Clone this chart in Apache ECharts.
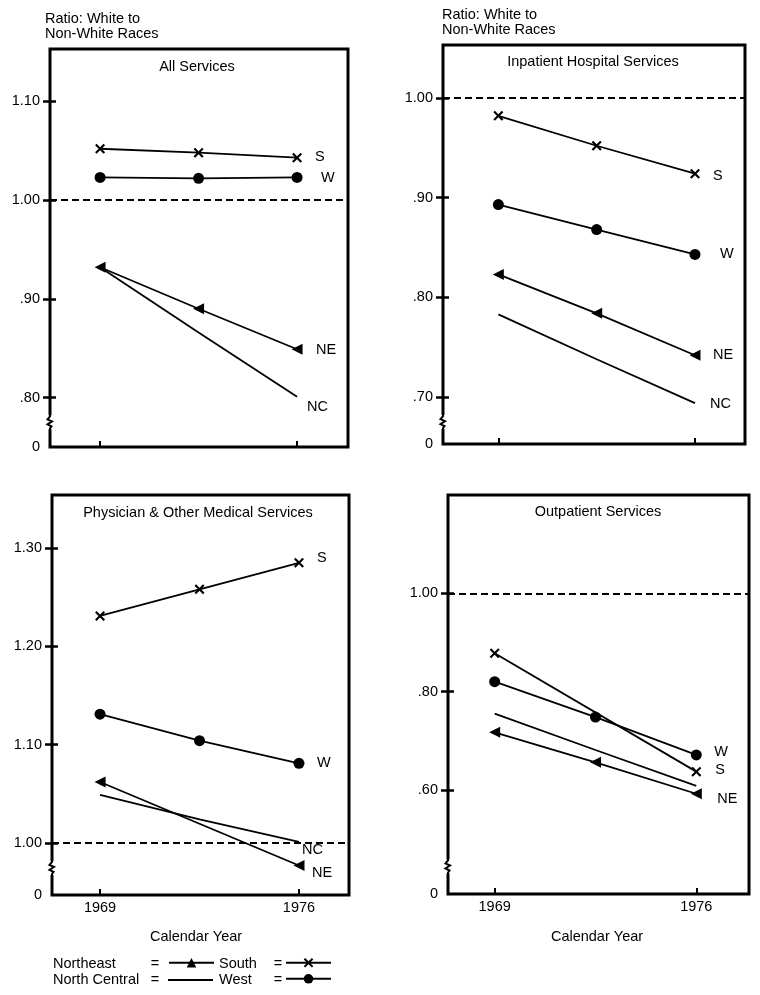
<!DOCTYPE html>
<html><head><meta charset="utf-8">
<script src="https://cdn.jsdelivr.net/npm/echarts@6/dist/echarts.min.js"></script>
<style>html,body{margin:0;padding:0;background:#fff}#c{width:760px;height:995px}</style>
</head><body><div id="c"></div>
<script>
// ---- data ----
const years = [1969, 1972.5, 1976];
const xTickYears = [1969, 1976];
const seriesNames = ['Northeast', 'North Central', 'South', 'West'];
const seriesCodes = ['NE', 'NC', 'S', 'W'];
const panelTitles = ['All Services', 'Inpatient Hospital Services', 'Physician & Other Medical Services', 'Outpatient Services'];
const yAxisTitle = 'Ratio: White to\nNon-White Races';
const xAxisTitle = 'Calendar Year';

const allNE = [0.932, 0.890, 0.849];
const allNC = [0.932, 0.866, 0.801];
const allS  = [1.052, 1.048, 1.043];
const allW  = [1.023, 1.022, 1.023];

const inpNE = [0.823, 0.784, 0.742];
const inpNC = [0.783, 0.738, 0.694];
const inpS  = [0.982, 0.952, 0.924];
const inpW  = [0.893, 0.868, 0.843];

const phyNE = [1.062, null, 0.977];
const phyNC = [1.049, 1.024, 1.001];
const phyS  = [1.231, 1.258, 1.285];
const phyW  = [1.131, 1.104, 1.081];

const outNE = [0.717, 0.656, 0.592];
const outNC = [0.755, 0.681, 0.608];
const outS  = [0.878, null, 0.637];
const outW  = [0.820, 0.748, 0.671];

const ticksAll = [0.80, 0.90, 1.00, 1.10];
const ticksInp = [0.70, 0.80, 0.90, 1.00];
const ticksPhy = [1.00, 1.10, 1.20, 1.30];
const ticksOut = [0.60, 0.80, 1.00];
const referenceRatio = 1.00;

// ---- layout / style ----
const FONT = '"Liberation Sans", Arial, Helvetica, sans-serif';
const FS = 14.5;
const panels = [
  {data: [allNE, allNC, allS, allW], ticks: ticksAll, grid: {left: 50, top: 49, width: 298, height: 398},
   xMin: 1967.22, xMax: 1977.81, yMin: 0.75, yMax: 1.153, brk: 0.775, xLabels: false,
   lab: [[19, 1], [10, 10], [18, -1], [24, 1]], showLab: [true, true, true, true]},
  {data: [inpNE, inpNC, inpS, inpW], ticks: ticksInp, grid: {left: 443, top: 45, width: 302, height: 399},
   xMin: 1967.03, xMax: 1977.78, yMin: 0.653, yMax: 1.053, brk: 0.675, xLabels: false,
   lab: [[18, 0], [15, 1], [18, 2], [25, 0]], showLab: [true, true, true, true]},
  {data: [phyNE, phyNC, phyS, phyW], ticks: ticksPhy, grid: {left: 52, top: 495, width: 297, height: 400},
   xMin: 1967.31, xMax: 1977.76, yMin: 0.947, yMax: 1.354, brk: 0.9745, xLabels: true,
   lab: [[13, 7], [3, 8], [18, -5], [18, 0]], showLab: [true, true, true, true]},
  {data: [outNE, outNC, outS, outW], ticks: ticksOut, grid: {left: 448, top: 495, width: 301, height: 399},
   xMin: 1967.38, xMax: 1977.83, yMin: 0.388, yMax: 1.2, brk: 0.444, xLabels: true,
   lab: [[21, 5], [0, 0], [19, -2], [18, -3]], showLab: [true, false, true, true]}
];
const titlePos = [[197, 67], [593, 62], [198, 513], [598, 512]];
const yTitlePos = [[45, 11], [442, 7.5]];
const xTitlePos = [[196, 937], [597, 937]];
// legend layout: [name x, '=' x, icon left, row center y]
const legendLayout = [[53, 155, 168, 964], [53, 155, 168, 980], [219, 278, 285, 964], [219, 278, 285, 980]];

const crossPath = 'path://M1.5,0 L5,3.5 L8.5,0 L10,1.5 L6.5,5 L10,8.5 L8.5,10 L5,6.5 L1.5,10 L0,8.5 L3.5,5 L0,1.5 Z';
const symbols = [
  {symbol: 'triangle', symbolSize: 11, symbolRotate: 90},
  {symbol: 'none', symbolSize: 0, symbolRotate: 0},
  {symbol: crossPath, symbolSize: 10, symbolRotate: 0},
  {symbol: 'circle', symbolSize: 11, symbolRotate: 0}
];

function fmtY(v, min) {
  if (Math.abs(v - min) < 1e-9) return '0';
  const s = v.toFixed(2);
  return v < 1 ? s.replace(/^0/, '') : s;
}

const grids = [], xAxes = [], yAxes = [], series = [], graphics = [], legends = [];
panels.forEach((p, i) => {
  grids.push(Object.assign({show: true, borderColor: '#000', borderWidth: 3, backgroundColor: 'transparent'}, p.grid));
  xAxes.push({
    type: 'value', gridIndex: i, min: p.xMin, max: p.xMax,
    axisLine: {show: false}, splitLine: {show: false},
    axisTick: {show: true, inside: true, length: 6, lineStyle: {color: '#000', width: 2}, customValues: xTickYears},
    axisLabel: {show: p.xLabels, customValues: xTickYears, formatter: v => String(v), margin: 5,
      color: '#000', fontSize: FS, fontFamily: FONT}
  });
  const labelVals = [p.yMin].concat(p.ticks);
  yAxes.push({
    type: 'value', gridIndex: i, min: p.yMin, max: p.yMax, position: 'left',
    axisLine: {show: false}, splitLine: {show: false},
    axisTick: {show: true, inside: false, length: 7, lineStyle: {color: '#000', width: 2.5}, customValues: p.ticks},
    axisLabel: {show: true, customValues: labelVals, formatter: v => fmtY(v, p.yMin), margin: 10,
      color: '#000', fontSize: FS, fontFamily: FONT}
  });
  yAxes.push({
    type: 'value', gridIndex: i, min: p.yMin, max: p.yMax, position: 'left', offset: 0,
    axisLine: {show: false}, splitLine: {show: false},
    axisTick: {show: true, inside: true, length: 6, lineStyle: {color: '#000', width: 2.5}, customValues: p.ticks},
    axisLabel: {show: false}
  });
  p.data.forEach((vals, k) => {
    const s = {
      type: 'line', name: seriesNames[k], xAxisIndex: i, yAxisIndex: 2 * i,
      data: years.map((y, j) => [y, vals[j]]),
      connectNulls: true,
      symbol: symbols[k].symbol, symbolSize: symbols[k].symbolSize, symbolRotate: symbols[k].symbolRotate,
      showSymbol: symbols[k].symbol !== 'none',
      lineStyle: {color: '#000', width: 1.8},
      itemStyle: {color: '#000', borderColor: '#000', borderWidth: 0},
      emphasis: {disabled: true},
      z: 3,
      endLabel: {show: p.showLab[k], formatter: seriesCodes[k], distance: p.lab[k][0], offset: [0, p.lab[k][1]],
        color: '#000', fontSize: FS, fontFamily: FONT, align: 'left', verticalAlign: 'middle'}
    };
    if (k === 0) {
      s.markLine = {silent: true, symbol: 'none', label: {show: false},
        lineStyle: {type: [7, 4], width: 2, color: '#000'}, data: [{yAxis: referenceRatio}]};
    }
    series.push(s);
  });
  // axis break mark
  series.push({
    type: 'custom', xAxisIndex: i, yAxisIndex: 2 * i, silent: true, z: 10,
    data: [[p.xMin, p.brk]],
    renderItem: (params, api) => {
      const c = api.coord([api.value(0), api.value(1)]);
      const x = c[0], y = c[1];
      return {type: 'group', children: [
        {type: 'rect', shape: {x: x - 3, y: y - 7, width: 6, height: 14}, style: {fill: '#fff'}},
        {type: 'polyline', shape: {points: [[x, y - 8], [x, y - 6], [x - 2.5, y - 3], [x + 2, y - 1], [x - 2.5, y + 2], [x + 1.5, y + 4], [x, y + 6], [x, y + 8]]},
          style: {stroke: '#000', lineWidth: 2, fill: null}}
      ]};
    }
  });
  graphics.push({type: 'text', x: titlePos[i][0], y: titlePos[i][1],
    style: {text: panelTitles[i], font: FS + 'px ' + FONT, fill: '#000', align: 'center', verticalAlign: 'middle'}});
});
yTitlePos.forEach(pos => graphics.push({type: 'text', x: pos[0], y: pos[1],
  style: {text: yAxisTitle, font: FS + 'px ' + FONT, lineHeight: 15, fill: '#000', align: 'left', verticalAlign: 'top'}}));
xTitlePos.forEach(pos => graphics.push({type: 'text', x: pos[0], y: pos[1],
  style: {text: xAxisTitle, font: FS + 'px ' + FONT, fill: '#000', align: 'center', verticalAlign: 'middle'}}));

// legend: one legend per entry (icon only), with name and '=' as text
seriesNames.forEach((name, k) => {
  const L = legendLayout[k];
  graphics.push({type: 'text', x: L[0], y: L[3],
    style: {text: name, font: FS + 'px ' + FONT, fill: '#000', align: 'left', verticalAlign: 'middle'}});
  graphics.push({type: 'text', x: L[1], y: L[3],
    style: {text: '=', font: FS + 'px ' + FONT, fill: '#000', align: 'center', verticalAlign: 'middle'}});
  const lineOnly = symbols[k].symbol === 'none';
  const ih = lineOnly ? 2 : 12;
  const lg = {
    left: L[2], top: L[3] - ih / 2, padding: 0, orient: 'horizontal', data: [name],
    itemWidth: 45, itemHeight: ih, symbolRotate: 0, selectedMode: false,
    formatter: () => '', textStyle: {fontSize: 1, lineHeight: 1}
  };
  if (lineOnly) lg.icon = 'rect';
  legends.push(lg);
});

const chart = echarts.init(document.getElementById('c'));
chart.setOption({
  animation: false,
  backgroundColor: '#fff',
  grid: grids, xAxis: xAxes, yAxis: yAxes, series: series,
  legend: legends,
  graphic: graphics
});
</script></body></html>
